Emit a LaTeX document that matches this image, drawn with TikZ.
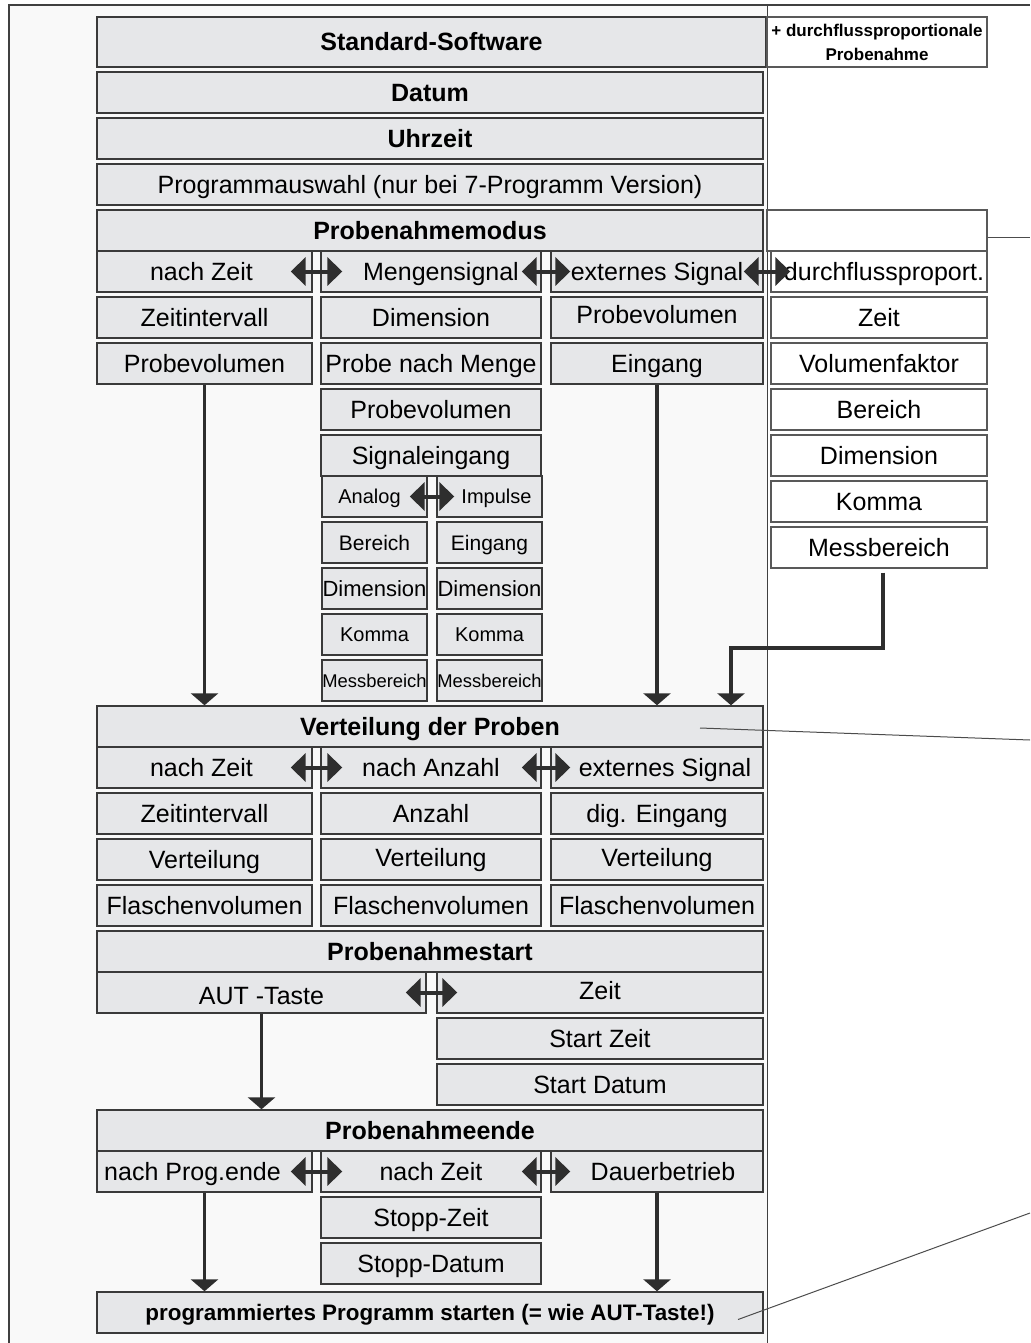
\documentclass[tikz,border=0pt]{standalone}
\usepackage{fontspec}
\setmainfont{Liberation Sans}
\usetikzlibrary{arrows.meta,calc}
\definecolor{boxfill}{HTML}{E6E7E9}
\definecolor{boxline}{HTML}{3A3A3A}
\definecolor{bgfill}{HTML}{F9F9F9}
\definecolor{arrowc}{HTML}{2E2E2E}

\begin{document}
\begin{tikzpicture}[x=0.5pt,y=-0.5pt,
  box/.style={rectangle, draw=boxline, fill=boxfill, line width=0.7pt, inner sep=0pt, minimum height=20.5pt, text height=9pt, text depth=0pt, font=\fontsize{12.5}{15}\selectfont},
  wbox/.style={box, fill=white, draw=black!65},
  head/.style={box, font=\fontsize{12.5}{15}\selectfont\bfseries},
  sub/.style={box, minimum width=52.5pt, text height=7.2pt, font=\fontsize{10}{12}\selectfont},
  wF/.style={minimum width=333pt},
  wA/.style={minimum width=107.5pt},
  wB/.style={minimum width=110pt},
  wC/.style={minimum width=106pt},
  wD/.style={minimum width=108pt},
  wL/.style={minimum width=164.5pt},
  wR/.style={minimum width=163pt},
  flow/.style={draw=arrowc, line width=1.6pt, -{Triangle[length=6pt,width=13.5pt]}},
  swap/.style={draw=arrowc, line width=2pt, {Triangle[length=7.5pt,width=14pt]}-{Triangle[length=7.5pt,width=14pt]}},
  lead/.style={draw=black!70, line width=0.5pt}]

\useasboundingbox (0,0) rectangle (1030,1343);
\fill[bgfill] (9,5) rectangle (767,1343);
\draw[black!75, line width=0.6pt] (9,1343) -- (9,5) -- (1030,5);
\draw[black!75, line width=0.5pt] (767,5) -- (767,1343);

\node[head, minimum width=334.5pt, minimum height=25pt] (std) at (431.5,42) {Standard-Software};
\node[wbox, minimum width=110pt, minimum height=25pt, text height=, text depth=, align=center, font=\fontsize{8.5}{12}\selectfont\bfseries] (plus) at (877,42) {+ durchflussproportionale\\Probenahme};
\node[head, wF] (datum) at (430,92.5) {Datum};
\node[head, wF] (uhrzeit) at (430,138.5) {Uhrzeit};
\node[box, wF] (progwahl) at (430,184.5) {Programmauswahl (nur bei 7-Programm Version)};

\node[head, wF] (modus) at (430,230.5) {Probenahmemodus};
\node[wbox, wD, minimum width=110pt] (modusr) at (877,230.5) {};
\node[box, wA] (mzeit) at (204.5,271.5) {nach Zeit\hspace*{3pt}};
\node[box, wB] (mmenge) at (431,271.5) {\hspace*{10pt}Mengensignal};
\node[box, wC] (mext) at (657,271.5) {externes Signal};
\node[wbox, wD] (mdurch) at (879,271.5) {\hspace*{5pt}durchflussproport.};

\node[box, wA] (mzint) at (204.5,317.5) {Zeitintervall};
\node[box, wA] (mpvol) at (204.5,363.5) {Probevolumen};
\node[box, wB] (mdim) at (431,317.5) {Dimension};
\node[box, wB] (mpnm) at (431,363.5) {Probe nach Menge};
\node[box, wB] (mpvolb) at (431,409.5) {Probevolumen};
\node[box, wB] (msig) at (431,455.5) {Signaleingang};
\node[box, wC, text depth=3.5pt] (mpvolc) at (657,317.5) {Probevolumen};
\node[box, wC] (meing) at (657,363.5) {Eingang};

\node[wbox, wD] (dzeit) at (879,317.5) {Zeit};
\node[wbox, wD] (dvolf) at (879,363.5) {Volumenfaktor};
\node[wbox, wD] (dber) at (879,409.5) {Bereich};
\node[wbox, wD] (ddim) at (879,455.5) {Dimension};
\node[wbox, wD] (dkom) at (879,501.5) {Komma};
\node[wbox, wD] (dmess) at (879,547.5) {Messbereich};

\node[sub] (analog) at (374.5,496.5) {Analog\hspace*{5pt}};
\node[sub] (impuls) at (489.5,496.5) {\hspace*{7pt}Impulse};
\node[sub, text height=7.6pt, font=\fontsize{10.5}{12}\selectfont] (aber) at (374.5,542.5) {Bereich};
\node[sub, text height=7.6pt, font=\fontsize{10.5}{12}\selectfont] (ieing) at (489.5,542.5) {Eingang};
\node[sub, text height=7.9pt, font=\fontsize{11}{12}\selectfont] (adim) at (374.5,588.5) {Dimension};
\node[sub, text height=7.9pt, font=\fontsize{11}{12}\selectfont] (idim) at (489.5,588.5) {Dimension};
\node[sub] (akom) at (374.5,634.5) {Komma};
\node[sub] (ikom) at (489.5,634.5) {Komma};
\node[sub, text height=6.6pt, font=\fontsize{9.2}{12}\selectfont] (amess) at (374.5,680.5) {Messbereich};
\node[sub, text height=6.6pt, font=\fontsize{9.2}{12}\selectfont] (imess) at (489.5,680.5) {Messbereich};

\node[head, wF] (vert) at (430,726.5) {Verteilung der Proben};
\node[box, wA] (vzeit) at (204.5,767.5) {nach Zeit\hspace*{3pt}};
\node[box, wB] (vanz) at (431,767.5) {nach Anzahl};
\node[box, wC] (vext) at (657,767.5) {\hspace*{8pt}externes Signal};
\node[box, wA] (vzint) at (204.5,813.5) {Zeitintervall};
\node[box, wB] (vanzb) at (431,813.5) {Anzahl};
\node[box, wC] (vdig) at (657,813.5) {dig. Eingang};
\node[box, wA] (vverta) at (204.5,859.5) {Verteilung};
\node[box, wB, text depth=2.5pt] (vvertb) at (431,859.5) {Verteilung};
\node[box, wC, text depth=2.5pt] (vvertc) at (657,859.5) {Verteilung};
\node[box, wA] (vfla) at (204.5,905.5) {Flaschenvolumen};
\node[box, wB] (vflb) at (431,905.5) {Flaschenvolumen};
\node[box, wC] (vflc) at (657,905.5) {Flaschenvolumen};

\node[head, wF] (pstart) at (430,951.5) {Probenahmestart};
\node[box, wL, text height=11.5pt] (aut) at (261.5,992.5) {AUT -Taste};
\node[box, wR, text depth=2.5pt] (szeit) at (600,992.5) {Zeit};
\node[box, wR] (sstzeit) at (600,1038.5) {Start Zeit};
\node[box, wR] (sstdat) at (600,1084.5) {Start Datum};

\node[head, wF] (pende) at (430,1130.5) {Probenahmeende};
\node[box, wA] (eprog) at (204.5,1171.5) {nach Prog.ende\hspace*{12pt}};
\node[box, wB] (ezeit) at (431,1171.5) {nach Zeit};
\node[box, wC] (edauer) at (657,1171.5) {\hspace*{6pt}Dauerbetrieb};
\node[box, wB] (estz) at (431,1217.5) {Stopp-Zeit};
\node[box, wB] (estd) at (431,1263.5) {Stopp-Datum};

\node[head, wF, text height=8pt, font=\fontsize{11.2}{14}\selectfont\bfseries] (prog) at (430,1312.5) {programmiertes Programm starten (= wie AUT-Taste!)};

\draw[swap] ($(mzeit.east)+(-22,0)$) -- ($(mmenge.west)+(22,0)$);
\draw[swap] ($(mmenge.east)+(-20,0)$) -- ($(mext.west)+(20,0)$);
\draw[swap] ($(mext.east)+(-20,0)$) -- ($(mdurch.west)+(20,0)$);
\draw[swap] ($(analog.east)+(-18,0)$) -- ($(impuls.west)+(18,0)$);
\draw[swap] ($(vzeit.east)+(-22,0)$) -- ($(vanz.west)+(22,0)$);
\draw[swap] ($(vanz.east)+(-20,0)$) -- ($(vext.west)+(20,0)$);
\draw[swap] ($(aut.east)+(-21,0)$) -- ($(szeit.west)+(21,0)$);
\draw[swap] ($(eprog.east)+(-22,0)$) -- ($(ezeit.west)+(22,0)$);
\draw[swap] ($(ezeit.east)+(-20,0)$) -- ($(edauer.west)+(20,0)$);

\coordinate (knee) at (731,648);
\draw[flow] (mpvol.south) -- (mpvol.south |- vert.north);
\draw[flow] (meing.south) -- (meing.south |- vert.north);
\draw[flow] ($(dmess.south)+(4,4)$) |- (knee) -- (knee |- vert.north);
\draw[flow] (aut.south) -- (aut.south |- pende.north);
\draw[flow] (eprog.south) -- (eprog.south |- prog.north);
\draw[flow] (edauer.south) -- (edauer.south |- prog.north);

\coordinate (ra) at (1030,237);
\coordinate (rb) at (1030,740);
\coordinate (rc) at (1030,1213);
\draw[lead] ($(modusr.east)+(0,6.5)$) -- (ra);
\draw[lead] ($(vert.center)+(270,1.5)$) -- (rb);
\draw[lead] ($(prog.center)+(308,7)$) -- (rc);
\end{tikzpicture}
\end{document}
